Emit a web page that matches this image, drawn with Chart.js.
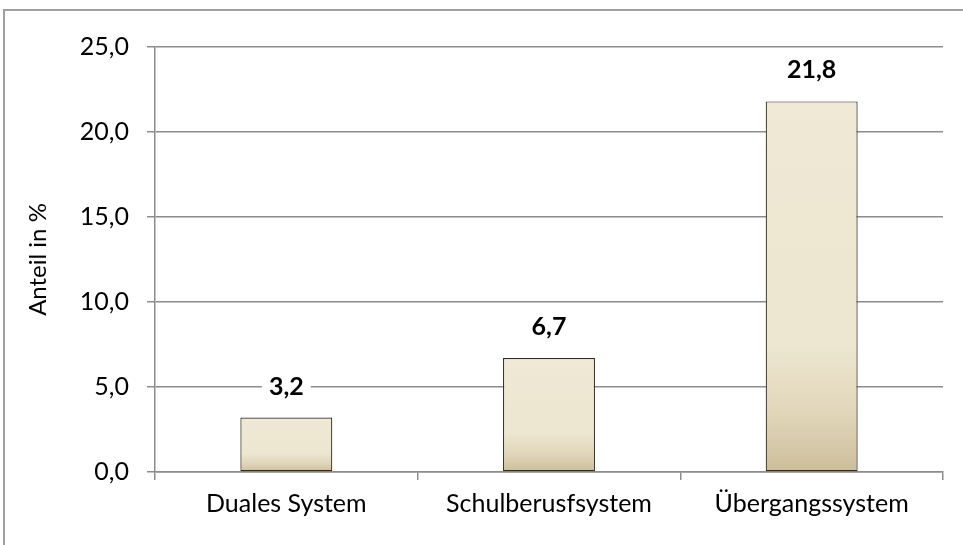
<!DOCTYPE html>
<html>
<head>
<meta charset="utf-8">
<script src="https://cdn.jsdelivr.net/npm/chart.js@4.4.1/dist/chart.umd.min.js"></script>
<style>
html,body{margin:0;padding:0;background:#fff;}
#wrap{width:963px;height:545px;position:relative;}
</style>
</head>
<body>
<div id="wrap"><canvas id="c" width="963" height="545"></canvas></div>
<script>
const categories = ['Duales System', 'Schulberusfsystem', 'Übergangssystem'];
const values = [3.2, 6.7, 21.8];
const yTicks = [0, 5, 10, 15, 20, 25];
const yTitle = 'Anteil in %';

const FONT = 'Lato, "Open Sans", sans-serif';
const GRID = '#8c8c8c';

function fmt(v){ return v.toFixed(1).replace('.', ','); }

const frame = {
  id: 'frame',
  beforeDraw(chart){
    const c = chart.ctx;
    c.save();
    c.fillStyle = '#fff';
    c.fillRect(0,0,chart.width,chart.height);
    c.strokeStyle = '#a0a0a0';
    c.lineWidth = 2;
    c.strokeRect(4, 10, 2000, 2000);
    c.restore();
  }
};

const labels = {
  id: 'labels',
  afterDatasetsDraw(chart){
    const c = chart.ctx;
    const meta = chart.getDatasetMeta(0);
    c.save();
    c.font = 'bold 25px ' + FONT;
    c.textAlign = 'center';
    c.textBaseline = 'middle';
    meta.data.forEach((bar, i) => {
      const t = fmt(values[i]);
      const w = c.measureText(t).width;
      const cy = bar.y - 31;
      c.fillStyle = '#fff';
      c.fillRect(bar.x - w/2 - 7, cy - 14, w + 14, 28);
      c.fillStyle = '#000';
      c.fillText(t, bar.x, cy);
    });
    c.restore();
  }
};

new Chart(document.getElementById('c'), {
  type: 'bar',
  data: {
    labels: categories,
    datasets: [{
      data: values,
      borderColor: '#2e2a1e',
      borderWidth: 1.2,
      borderSkipped: false,
      categoryPercentage: 1,
      barPercentage: 0.35,
      backgroundColor: (ctx) => {
        const chart = ctx.chart;
        const y = chart.scales && chart.scales.y;
        if (!chart.chartArea || !y || ctx.raw == null) return '#EEE8D3';
        const top = y.getPixelForValue(ctx.raw);
        const bottom = y.getPixelForValue(0);
        const g = chart.ctx.createLinearGradient(0, top, 0, bottom);
        g.addColorStop(0, '#EFE9D5');
        g.addColorStop(0.66, '#EDE6D0');
        g.addColorStop(0.84, '#E1D6BA');
        g.addColorStop(1, '#CCBE9B');
        return g;
      }
    }]
  },
  options: {
    responsive: false,
    animation: false,
    devicePixelRatio: 1,
    layout: { padding: { top: 47, right: 20, bottom: 0, left: 0 } },
    plugins: { legend: { display: false }, tooltip: { enabled: false } },
    scales: {
      x: {
        afterFit(s){ s.height = 73; },
        grid: { drawOnChartArea: false, drawTicks: true, tickLength: 8, color: GRID, lineWidth: 1.5, offset: true },
        border: { display: true, color: GRID, width: 1.5 },
        ticks: { color: '#000', font: { family: FONT, size: 25 }, padding: 9 }
      },
      y: {
        min: 0, max: 25,
        afterFit(s){ s.width = 155; },
        afterBuildTicks(s){ s.ticks = yTicks.map(v => ({ value: v })); },
        grid: { color: GRID, lineWidth: 1.5, tickLength: 8 },
        border: { display: true, color: GRID, width: 1.5 },
        ticks: { color: '#000', font: { family: FONT, size: 25 }, padding: 18, callback: (v) => fmt(v) },
        title: { display: true, text: yTitle, color: '#000', font: { family: FONT, size: 24 }, padding: { top: 24, bottom: 0 } }
      }
    }
  },
  plugins: [frame, labels]
});
</script>
</body>
</html>
